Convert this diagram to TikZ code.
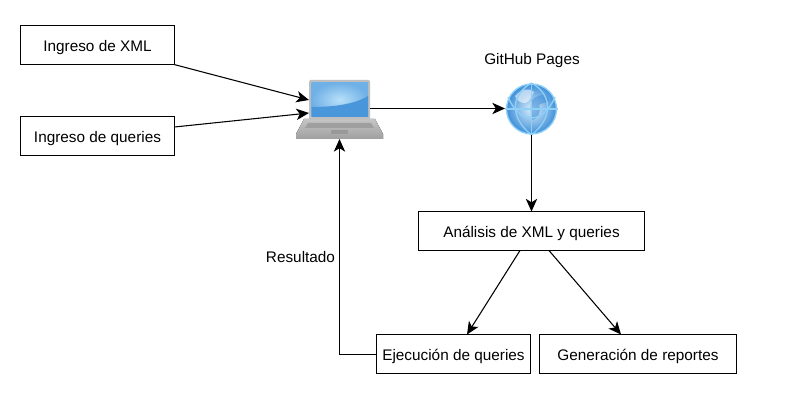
\documentclass[tikz,border=0pt]{standalone}
\usepackage{fontspec}
\setmainfont{Liberation Sans}
\usetikzlibrary{arrows.meta,calc}
\definecolor{scrA}{HTML}{B8E0F8}
\definecolor{scrB}{HTML}{4A96DA}
\definecolor{scrC}{HTML}{6FB0E6}
\definecolor{globeA}{HTML}{DCEEFA}
\definecolor{globeB}{HTML}{3F8FD8}
\definecolor{globeL}{HTML}{8FD0F8}
\tikzset{
  proc/.style={draw=black,line width=0.8pt,fill=white,inner sep=0pt,outer sep=0pt,minimum height=29.25pt,text height=9.5pt,text depth=0pt,font=\fontsize{11.5}{13}\selectfont},
  lbl/.style={inner sep=0pt,font=\fontsize{11.5}{13}\selectfont},
  conn/.style={draw=black,line width=0.8pt,-{Stealth[inset=2.6pt,length=9.5pt,width=8.5pt]}},
  icon/.style={inner sep=0pt,minimum width=0pt}
}
\begin{document}
\begin{tikzpicture}[x=0.75pt,y=-0.75pt]
\useasboundingbox (0,0) rectangle (785,402);
\fill[white] (0,0) rectangle (785,402);
% boxes
\node[proc,minimum width=115.5pt] (xml) at (97.5,45) {Ingreso de XML};
\node[proc,minimum width=115.5pt] (qry) at (97.5,136) {Ingreso de queries};
\node[proc,minimum width=169.5pt] (ana) at (531.5,231) {Análisis de XML y queries};
\node[proc,minimum width=115.5pt] (eje) at (453.5,354) {Ejecución de queries};
\node[proc,minimum width=147.75pt] (gen) at (638,354) {Generación de reportes};
\node[lbl] (gh) at (532,61) {GitHub Pages};
\node[lbl] (res) at (300.5,257) {Resultado};
% laptop icon
\node[icon,minimum width=65.25pt,minimum height=44.25pt] (lap) at (339.5,109.5) {};
\fill[top color=gray!45,bottom color=gray!75] (304,119) -- (375,119) -- (383,134) -- (383,139) -- (296,139) -- (296,134) -- cycle;
\fill[gray!75] (308,123) -- (371,123) -- (374,128) -- (305,128) -- cycle;
\fill[gray!80] (331,130) -- (348,130) -- (348,134) -- (331,134) -- cycle;
\fill[rounded corners=1pt,gray!50] (309,80) rectangle (370,120);
\shade[inner color=scrA,outer color=scrC] (311.5,82.5) rectangle (368,117);
\fill[scrB] (311.5,117) -- (311.5,107) .. controls (335,107) and (355,104) .. (368,96) -- (368,117) -- cycle;
% globe icon
\node[icon,circle,minimum size=39pt] (glb) at (531.5,109) {};
\shade[inner color=globeA,outer color=globeB] (531.5,109) circle (25);
\fill[white,opacity=.55] (515,96) .. controls (522,88) and (530,88) .. (534,92) .. controls (530,100) and (527,104) .. (523,103) .. controls (519,102) and (517,100) .. (515,96) -- cycle;
\fill[globeB,opacity=.55] (532,100) .. controls (540,92) and (550,95) .. (549,101) .. controls (546,104) and (542,102) .. (539,105) .. controls (542,112) and (537,120) .. (532,120) .. controls (530,112) and (530,106) .. (532,100) -- cycle;
\begin{scope}[draw=globeL,line width=1pt]
  \draw (531.5,109) circle (25);
  \draw (505,109) -- (558,109);
  \draw (531.5,83) -- (531.5,135);
  \draw (531.5,83) .. controls (510,95) and (510,118) .. (531.5,135);
  \draw (531.5,83) .. controls (553,95) and (553,118) .. (531.5,135);
  \draw (508,97) .. controls (520,125) and (543,125) .. (555,97);
\end{scope}
% connector ends
\coordinate (xmlS) at (174,64.5);
\coordinate (lapA) at (309,100);
\coordinate (qryS) at (174.5,127);
\coordinate (lapB) at (309,113);
\coordinate (anaL) at (520,250.5);
\coordinate (ejeT) at (467,334.5);
\coordinate (anaR) at (549,250.5);
\coordinate (genT) at (621,334.5);
\coordinate (lapS) at (339.5,139);
\coordinate (lapE) at (370,108.5);
\coordinate (glbW) at (505,108.5);
\coordinate (glbS) at (531.5,135);
\coordinate (ejeW) at (376.5,354.5);
\draw[conn] (xmlS) -- (lapA);
\draw[conn] (qryS) -- (lapB);
\draw[conn] (lapE) -- (glbW);
\draw[conn] (glbS) -- (ana.north);
\draw[conn] (anaL) -- (ejeT);
\draw[conn] (anaR) -- (genT);
\draw[conn] (ejeW) -- (lapS |- ejeW) -- (lapS);
\end{tikzpicture}
\end{document}
